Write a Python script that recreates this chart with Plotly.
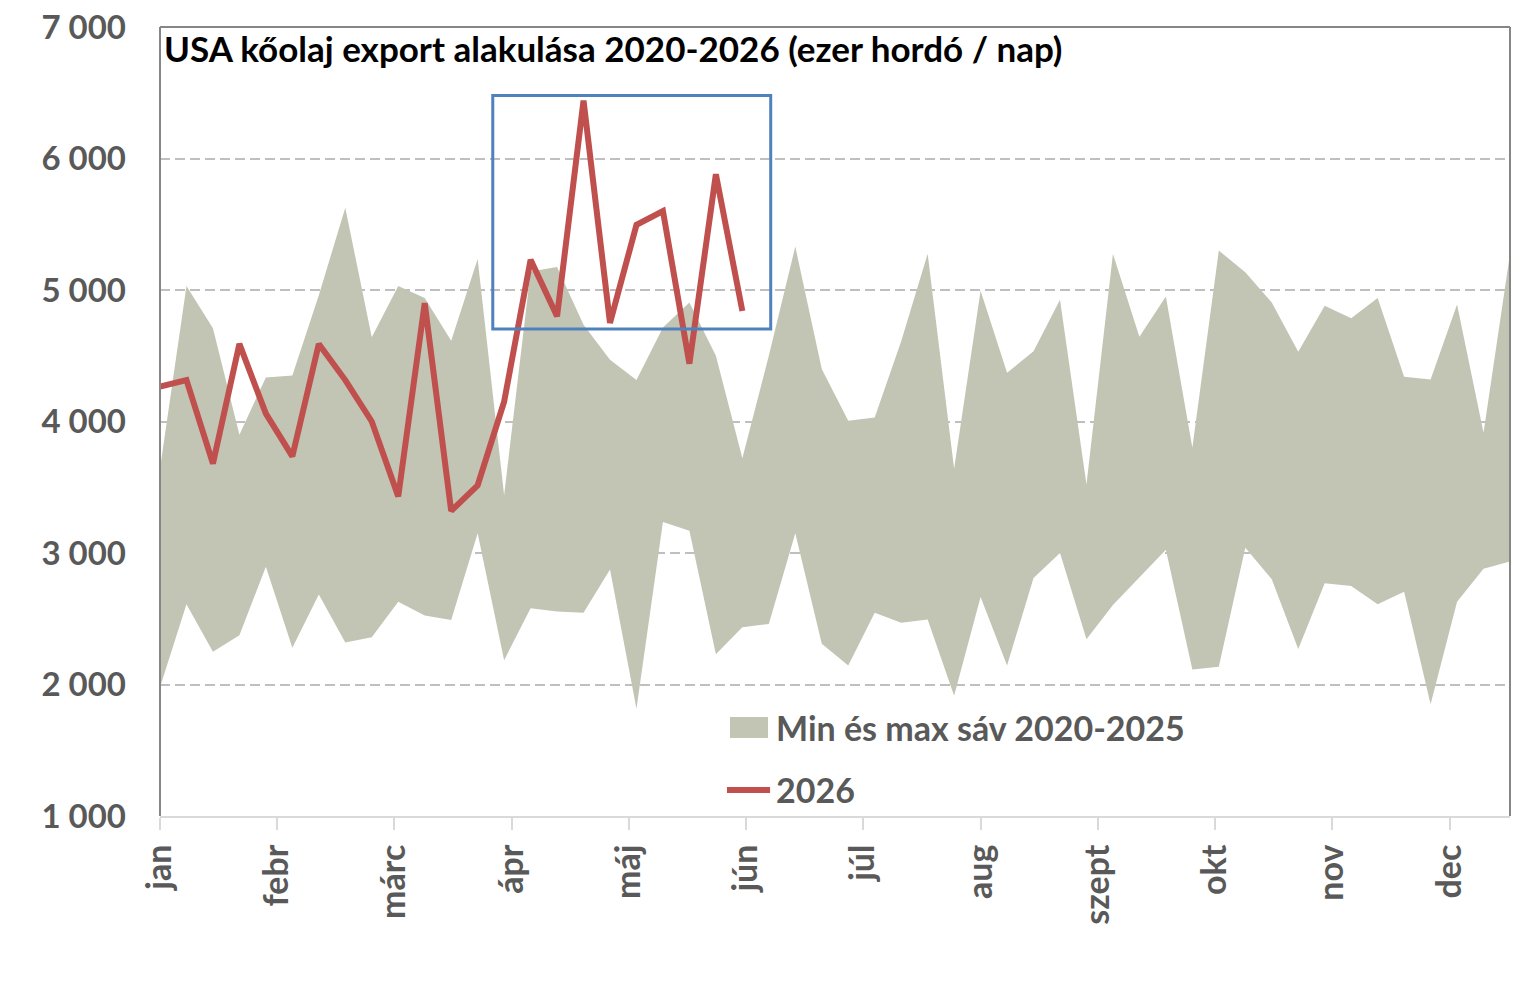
import plotly.graph_objects as go

# ---- data ----
week_days = [7 * i for i in range(52)]  # weekly observations, day-of-year offset
band_max = [3640, 5030, 4710, 3900, 4335, 4350, 4960, 5625, 4640, 5030, 4940, 4615, 5235,
            3440, 5140, 5175, 4735, 4470, 4315, 4715, 4905, 4500, 3720, 4500, 5330, 4400,
            4005, 4030, 4610, 5275, 3640, 4995, 4370, 4535, 4925, 3520, 5275, 4645, 4950,
            3800, 5300, 5135, 4905, 4530, 4880, 4785, 4940, 4340, 4320, 4890, 3915, 5275]
band_min = [1980, 2610, 2250, 2375, 2895, 2280, 2685, 2320, 2360, 2630, 2525, 2490, 3150,
            2185, 2580, 2555, 2545, 2875, 1815, 3235, 3170, 2230, 2435, 2460, 3150, 2310,
            2145, 2545, 2470, 2495, 1915, 2665, 2145, 2810, 3000, 2345, 2605, 2815, 3025,
            2115, 2135, 3040, 2800, 2270, 2770, 2750, 2610, 2705, 1850, 2630, 2880, 2935]
y2026 = [4265, 4315, 3680, 4590, 4060, 3735, 4590, 4315, 4000, 3430, 4900, 3320, 3515,
         4150, 5230, 4800, 6440, 4750, 5495, 5600, 4440, 5880, 4840]
month_labels = ["jan", "febr", "márc", "ápr", "máj", "jún", "júl", "aug", "szept", "okt", "nov", "dec"]
month_ticks = [31 * k for k in range(12)]
y_ticks = [1000, 2000, 3000, 4000, 5000, 6000, 7000]

title_text = "USA kőolaj export alakulása 2020-2026 (ezer hordó / nap)"
band_name = "Min és max sáv 2020-2025"
line_name = "2026"

# highlight box (data coords: days, value)
box_x = [88, 161.5]
box_y = [4703, 6480]

BAND = "#c2c5b4"
RED = "#c0504d"
BLUE = "#4f81bd"
TXT = "#595959"
FONT = "Lato"

fig = go.Figure()
fig.add_trace(go.Scatter(x=week_days, y=band_min, mode="lines", line=dict(width=0),
                         showlegend=False, hoverinfo="skip"))
fig.add_trace(go.Scatter(x=week_days, y=band_max, mode="lines", line=dict(width=0),
                         fill="tonexty", fillcolor=BAND, name=band_name, showlegend=False))
fig.add_trace(go.Scatter(x=week_days[:len(y2026)], y=y2026, mode="lines",
                         line=dict(color=RED, width=6), name=line_name, showlegend=False))

# highlight rectangle
fig.add_shape(type="rect", xref="x", yref="y", x0=box_x[0], x1=box_x[1], y0=box_y[0], y1=box_y[1],
              line=dict(color=BLUE, width=3), layer="above")

# plot-area frame (left, top, right)
frame = dict(color="#868686", width=2)
fig.add_shape(type="line", xref="paper", yref="paper", x0=0, x1=0, y0=0, y1=1, line=frame, layer="above")
fig.add_shape(type="line", xref="paper", yref="paper", x0=0, x1=1, y0=1, y1=1, line=frame, layer="above")
fig.add_shape(type="line", xref="paper", yref="paper", x0=1, x1=1, y0=0, y1=1, line=frame, layer="above")

# manual legend
fig.add_shape(type="rect", xref="paper", yref="paper", x0=0.4222, x1=0.4504, y0=0.0989, y1=0.1255,
              fillcolor=BAND, line=dict(width=0))
fig.add_shape(type="line", xref="paper", yref="paper", x0=0.4200, x1=0.4519, y0=0.033, y1=0.033,
              line=dict(color=RED, width=6))
fig.add_annotation(xref="paper", yref="paper", x=0.4550, y=0.1128, text=band_name, showarrow=False,
                   xanchor="left", yanchor="middle",
                   font=dict(family=FONT, size=34, color=TXT, weight="bold"))
fig.add_annotation(xref="paper", yref="paper", x=0.4550, y=0.033, text=line_name, showarrow=False,
                   xanchor="left", yanchor="middle",
                   font=dict(family=FONT, size=34, color=TXT, weight="bold"))

# title inside plot
fig.add_annotation(xref="paper", yref="paper", x=0.0015, y=0.9734, text=title_text, showarrow=False,
                   xanchor="left", yanchor="middle",
                   font=dict(family=FONT, size=35, color="#000000", weight="bold"))

fig.update_layout(
    width=1525, height=996,
    margin=dict(l=160, r=15, t=27, b=180, autoexpand=False),
    paper_bgcolor="white", plot_bgcolor="white",
    separators=", ",
    showlegend=False,
    font=dict(family=FONT, color=TXT),
)
fig.update_xaxes(
    range=[0, 357], tickmode="array", tickvals=month_ticks, ticktext=month_labels,
    tickangle=-90, ticks="outside", ticklen=12, tickcolor="#d9d9d9", tickwidth=2,
    showline=True, linecolor="#d9d9d9", linewidth=2, showgrid=False, zeroline=False,
    automargin=False,
    tickfont=dict(family=FONT, size=34, color=TXT, weight="bold"), ticklabelstandoff=1,
)
fig.update_yaxes(
    range=[1000, 7000], tickmode="array", tickvals=y_ticks, tickformat=",d",
    showgrid=True, gridcolor="#bfbfbf", gridwidth=2, griddash="10px,5px",
    zeroline=False, showline=False, ticks="", automargin=False,
    tickfont=dict(family=FONT, size=33, color=TXT, weight="bold"), ticklabelstandoff=33,
)

fig.write_html("out.html")
